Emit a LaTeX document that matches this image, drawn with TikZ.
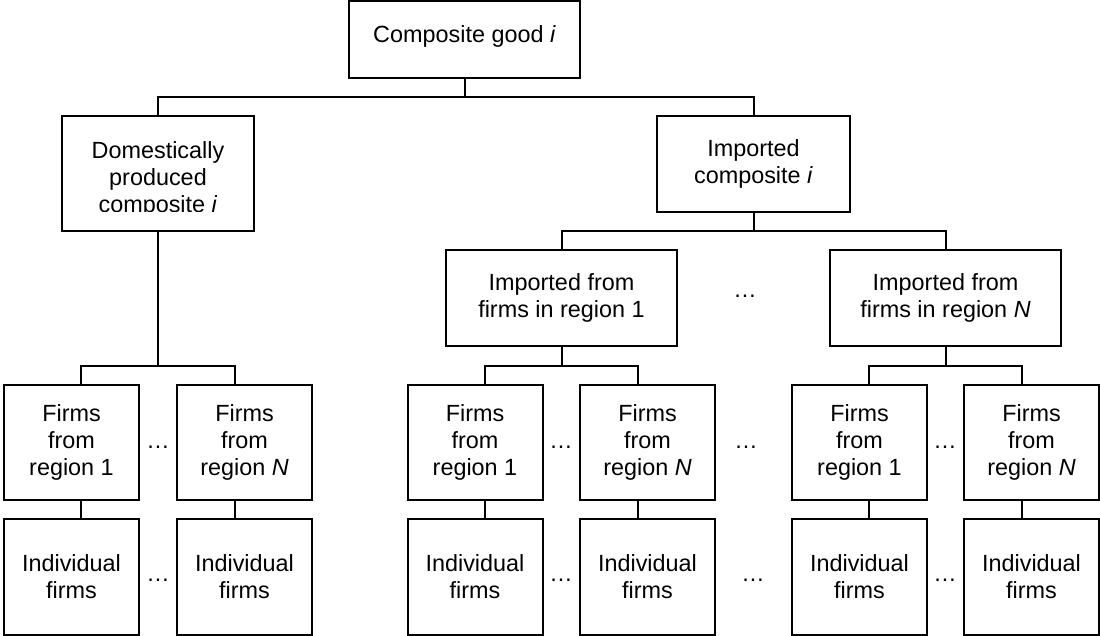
\documentclass[tikz,border=0pt]{standalone}
\usepackage{fontspec}
\setmainfont{Liberation Sans}
\begin{document}
\begin{tikzpicture}[x=1pt,y=-1pt,
  box/.style={draw, line width=2pt, inner sep=0pt, rectangle, align=center,
              font=\fontsize{23.4}{27}\selectfont},
  fbox/.style={box, minimum width=135pt, minimum height=115pt},
  ibox/.style={box, minimum width=135pt, minimum height=116pt},
  rbox/.style={box, minimum width=231pt, minimum height=96pt},
  lbl/.style={inner sep=0pt, align=center, font=\fontsize{23.4}{27}\selectfont},
  dotlbl/.style={inner sep=0pt, anchor=base, font=\fontsize{23.4}{27}\selectfont},
  conn/.style={line width=2pt}]
\useasboundingbox (0,0) rectangle (1100,636);
\fill[white] (0,0) rectangle (1100,636);

% level 0
\node[box, minimum width=231pt, minimum height=77pt] (top) at (464.5,39.5) {};
\node[lbl, anchor=base] (toptxt) at (464.5,43) {Composite good \textit{i}};

% level 1
\node[box, minimum width=192pt, minimum height=115pt] (dom) at (158,173.5) {};
\begin{scope}
\clip (62,116) rectangle (254,212);
\node[lbl] (domtxt) at (158,179) {Domestically\\produced\\composite \textit{i}};
\end{scope}
\node[box, minimum width=193pt, minimum height=96pt] (imp) at (753.5,164) {Imported\\composite \textit{i}};

% level 2
\node[rbox] (r1) at (561.5,298) {Imported from\\firms in region 1};
\node[rbox] (rN) at (945.5,298) {Imported from\\firms in region \textit{N}};
\node[dotlbl] (d0) at (745,298) {…};

% level 3 : firms from region
\node[fbox] (f11) at (71.5,442.5) {Firms\\from\\region 1};
\node[fbox] (f12) at (244.5,442.5) {Firms\\from\\region \textit{N}};
\node[fbox] (f21) at (475,442.5) {Firms\\from\\region 1};
\node[fbox] (f22) at (647.5,442.5) {Firms\\from\\region \textit{N}};
\node[fbox] (f31) at (859.5,442.5) {Firms\\from\\region 1};
\node[fbox] (f32) at (1031.5,442.5) {Firms\\from\\region \textit{N}};

% level 4 : individual firms
\node[ibox] (i11) at (71.5,577) {Individual\\firms};
\node[ibox] (i12) at (244.5,577) {Individual\\firms};
\node[ibox] (i21) at (475,577) {Individual\\firms};
\node[ibox] (i22) at (647.5,577) {Individual\\firms};
\node[ibox] (i31) at (859.5,577) {Individual\\firms};
\node[ibox] (i32) at (1031.5,577) {Individual\\firms};

% ellipses
\node[dotlbl] (d1) at (158,448) {…};
\node[dotlbl] (d2) at (561,448) {…};
\node[dotlbl] (d3) at (746,448) {…};
\node[dotlbl] (d4) at (945,448) {…};
\node[dotlbl] (e1) at (158,581) {…};
\node[dotlbl] (e2) at (561,581) {…};
\node[dotlbl] (e3) at (753,581) {…};
\node[dotlbl] (e4) at (945,581) {…};

% connector junctions
\coordinate (b0) at (464.5,97);
\coordinate (b1) at (158,366);
\coordinate (b2) at (753.5,231);
\coordinate (b3) at (561.5,366);
\coordinate (b4) at (945.5,366);

% connectors
\draw[conn] (top.south) -- (b0);
\draw[conn] (dom.north) |- (b0) -| (imp.north);
\draw[conn] (dom.south) -- (b1);
\draw[conn] ([xshift=9.5pt]f11.north) |- (b1) -| ([xshift=-9.5pt]f12.north);
\draw[conn] (imp.south) -- (b2);
\draw[conn] (r1.north) |- (b2) -| (rN.north);
\draw[conn] (r1.south) -- (b3);
\draw[conn] ([xshift=9.5pt]f21.north) |- (b3) -| ([xshift=-9.5pt]f22.north);
\draw[conn] (rN.south) -- (b4);
\draw[conn] ([xshift=9.5pt]f31.north) |- (b4) -| ([xshift=-9.5pt]f32.north);

\foreach \a/\b in {11/11,12/12,21/21,22/22,31/31,32/32}{
  \pgfmathsetmacro{\s}{ifthenelse(mod(\a,2)==1,9.5,-9.5)}
  \draw[conn] ([xshift=\s pt]f\a.south) -- ([xshift=\s pt]i\b.north);
}
\end{tikzpicture}
\end{document}
